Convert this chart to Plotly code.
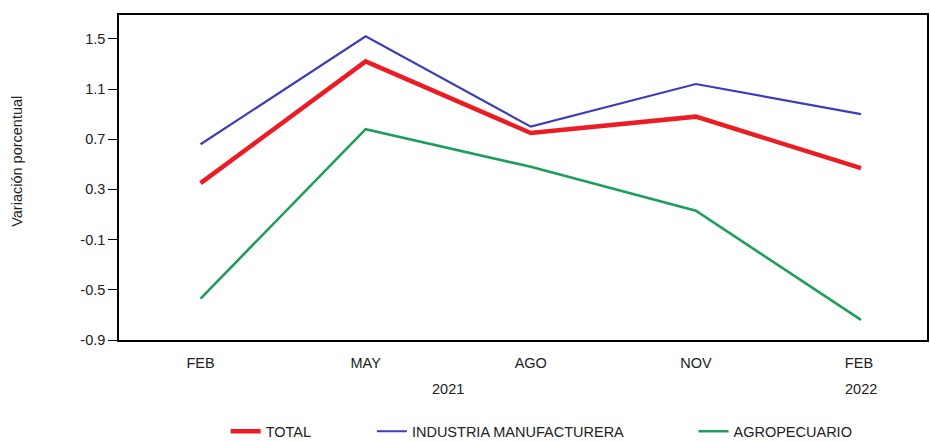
import plotly.graph_objects as go

categories = ["FEB", "MAY", "AGO", "NOV", "FEB "]
year_labels = ["2021", "2022"]
year_positions = [1.5, 4]

total = [0.35, 1.32, 0.75, 0.88, 0.47]
industria = [0.66, 1.52, 0.80, 1.14, 0.90]
agro = [-0.57, 0.78, 0.48, 0.13, -0.74]

y_ticks = [1.5, 1.1, 0.7, 0.3, -0.1, -0.5, -0.9]

x_idx = list(range(len(categories)))

font_main = "Liberation Sans, Arial, sans-serif"
font_legend = "Liberation Sans Narrow, Arial Narrow, Liberation Sans, sans-serif"
fsize = 14.5

fig = go.Figure()
fig.add_trace(go.Scatter(x=x_idx, y=total, mode="lines", name="TOTAL", legend="legend",
                         line=dict(color="#ec1c24", width=4.5)))
fig.add_trace(go.Scatter(x=x_idx, y=industria, mode="lines", name="INDUSTRIA MANUFACTURERA",
                         legend="legend2", line=dict(color="#3d3db8", width=2.2)))
fig.add_trace(go.Scatter(x=x_idx, y=agro, mode="lines", name="AGROPECUARIO", legend="legend3",
                         line=dict(color="#1e9e5a", width=2.6)))

for lbl, pos in zip(year_labels, year_positions):
    fig.add_annotation(x=pos, y=-0.15, xref="x", yref="paper", text=lbl,
                       showarrow=False, yanchor="middle", xanchor="center",
                       font=dict(family=font_main, size=fsize, color="#222"))

fig.add_annotation(x=0, y=0.52, xref="paper", yref="y", text="Variación porcentual",
                   textangle=-90, showarrow=False, xanchor="center", yanchor="middle",
                   xshift=-102, font=dict(family=font_main, size=fsize, color="#222"))

leg_common = dict(orientation="h", xanchor="left", y=-0.281, yanchor="middle",
                  font=dict(family=font_legend, size=14.5, color="#222"),
                  bgcolor="rgba(0,0,0,0)", borderwidth=0)

fig.update_layout(
    width=930, height=442,
    margin=dict(l=119, r=3, t=15, b=102, autoexpand=False),
    paper_bgcolor="white", plot_bgcolor="white",
    font=dict(family=font_main, size=fsize, color="#222"),
    showlegend=True,
    legend=dict(x=0.132, **leg_common),
    legend2=dict(x=0.313, **leg_common),
    legend3=dict(x=0.711, **leg_common),
)

fig.update_xaxes(
    range=[-0.494, 4.4],
    tickmode="array", tickvals=x_idx, ticktext=categories,
    showline=True, mirror=True, linecolor="black", linewidth=1.5,
    ticks="", showgrid=False, zeroline=False, ticklabelstandoff=9,
)
fig.update_yaxes(
    range=[-0.9, 1.69],
    tickmode="array", tickvals=y_ticks, ticktext=[f"{v:.1f}" for v in y_ticks],
    showline=True, mirror=True, linecolor="black", linewidth=1.5,
    ticks="outside", ticklen=9, tickcolor="black", tickwidth=1,
    showgrid=False, zeroline=False,
)

fig.write_html("out.html", config={"displayModeBar": False},
               post_script="document.body.style.margin='0';document.body.style.overflow='hidden';")
